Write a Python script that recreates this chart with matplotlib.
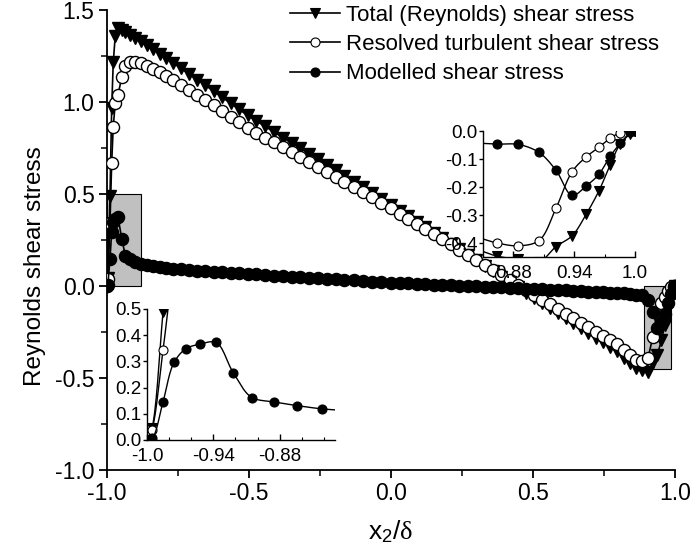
import numpy as np
import matplotlib
matplotlib.use("Agg")
import matplotlib.pyplot as plt
from matplotlib.patches import Rectangle
from matplotlib.ticker import MultipleLocator, FixedLocator

plt.rcParams["font.family"] = ["Liberation Sans", "DejaVu Sans"]
plt.rcParams["mathtext.fontset"] = "custom"
plt.rcParams["mathtext.rm"] = "Liberation Serif"
plt.rcParams["mathtext.sf"] = "Liberation Sans"
plt.rcParams["mathtext.it"] = "Liberation Serif"

# wall-normal positions x2/delta as placed on the full-channel axes
x_main = [-1.0, -0.997, -0.9895, -0.9835, -0.978, -0.971, -0.961, -0.948, -0.935, -0.919,
          -0.901, -0.881, -0.860, -0.838, -0.815, -0.791, -0.766, -0.740, -0.712, -0.683,
          -0.654, -0.625, -0.595, -0.565, -0.535, -0.505, -0.474, -0.443, -0.412, -0.381,
          -0.350, -0.319, -0.288, -0.257, -0.226, -0.195, -0.164, -0.132, -0.100, -0.068,
          -0.034, 0.0,
          0.030, 0.060, 0.090, 0.120, 0.150, 0.180, 0.210, 0.240, 0.270, 0.300,
          0.330, 0.360, 0.389, 0.418, 0.447, 0.476, 0.504, 0.532, 0.560, 0.588,
          0.615, 0.642, 0.669, 0.695, 0.721, 0.746, 0.771, 0.795, 0.819, 0.842,
          0.864, 0.885, 0.905, 0.922, 0.938, 0.952, 0.9645, 0.9755, 0.9855, 0.9955, 1.0]

# the same samples as placed on the near-wall close-ups
x_zoom = [-1.0, -0.9955, -0.9855, -0.9755, -0.9645, -0.952, -0.938, -0.922, -0.905, -0.885,
          -0.864, -0.842, -0.819, -0.795, -0.771, -0.746, -0.721, -0.695, -0.669, -0.642,
          -0.615, -0.588, -0.560, -0.532, -0.504, -0.476, -0.447, -0.418, -0.389, -0.360,
          -0.330, -0.300, -0.270, -0.240, -0.210, -0.180, -0.150, -0.120, -0.090, -0.060,
          -0.030, 0.0,
          0.030, 0.060, 0.090, 0.120, 0.150, 0.180, 0.210, 0.240, 0.270, 0.300,
          0.330, 0.360, 0.389, 0.418, 0.447, 0.476, 0.504, 0.532, 0.560, 0.588,
          0.615, 0.642, 0.669, 0.695, 0.721, 0.746, 0.771, 0.795, 0.819, 0.842,
          0.864, 0.885, 0.905, 0.922, 0.938, 0.952, 0.9645, 0.9755, 0.9855, 0.9955, 1.0]

total = [0.0, 0.045, 0.489, 0.966, 1.215, 1.359, 1.400, 1.392, 1.380, 1.365,
         1.348, 1.329, 1.308, 1.286, 1.262, 1.237, 1.211, 1.183, 1.153, 1.122,
         1.091, 1.059, 1.026, 0.993, 0.960, 0.927, 0.897, 0.867, 0.837, 0.807,
         0.777, 0.748, 0.718, 0.688, 0.658, 0.628, 0.598, 0.567, 0.536, 0.505,
         0.473, 0.440,
         0.410, 0.380, 0.350, 0.320, 0.290, 0.260, 0.230, 0.200, 0.170, 0.140,
         0.110, 0.080, 0.051, 0.022, -0.007, -0.036, -0.064, -0.092, -0.120, -0.148,
         -0.175, -0.202, -0.229, -0.255, -0.281, -0.306, -0.331, -0.355, -0.390, -0.420,
         -0.447, -0.458, -0.468, -0.413, -0.374, -0.296, -0.213, -0.121, -0.046, -0.010, 0.0]

resolved = [0.0, 0.039, 0.343, 0.670, 0.866, 0.993, 1.040, 1.135, 1.195, 1.215,
            1.220, 1.212, 1.196, 1.180, 1.161, 1.140, 1.118, 1.093, 1.066, 1.038,
            1.010, 0.981, 0.951, 0.921, 0.891, 0.861, 0.834, 0.807, 0.780, 0.753,
            0.726, 0.700, 0.673, 0.646, 0.619, 0.592, 0.565, 0.537, 0.509, 0.481,
            0.452, 0.422,
            0.394, 0.366, 0.338, 0.310, 0.282, 0.254, 0.226, 0.198, 0.170, 0.142,
            0.114, 0.086, 0.059, 0.032, 0.005, -0.022, -0.048, -0.074, -0.100, -0.126,
            -0.151, -0.176, -0.201, -0.225, -0.249, -0.272, -0.295, -0.317, -0.350, -0.377,
            -0.400, -0.410, -0.392, -0.276, -0.145, -0.092, -0.058, -0.026, -0.006, 0.0, 0.0]

modelled = [0.0, 0.006, 0.146, 0.296, 0.349, 0.366, 0.373, 0.257, 0.162, 0.145,
            0.131, 0.119, 0.112, 0.106, 0.101, 0.097, 0.093, 0.090, 0.087, 0.084,
            0.081, 0.078, 0.075, 0.072, 0.069, 0.066, 0.063, 0.060, 0.057, 0.054,
            0.051, 0.048, 0.045, 0.042, 0.039, 0.036, 0.033, 0.030, 0.027, 0.024,
            0.021, 0.018,
            0.016, 0.014, 0.012, 0.010, 0.008, 0.006, 0.004, 0.002, 0.000, -0.002,
            -0.004, -0.006, -0.008, -0.010, -0.012, -0.014, -0.016, -0.018, -0.020, -0.022,
            -0.024, -0.026, -0.028, -0.030, -0.032, -0.034, -0.036, -0.038, -0.040, -0.043,
            -0.047, -0.048, -0.076, -0.140, -0.230, -0.196, -0.154, -0.090, -0.044, -0.005, 0.0]

labels = ["Total (Reynolds) shear stress",
          "Resolved turbulent shear stress",
          "Modelled shear stress"]

# close-up windows shown as grey boxes on the main axes: (x0, x1, y0, y1)
box_lower = (-1.0, -0.88, 0.0, 0.5)
box_upper = (0.89, 0.985, -0.45, 0.0)

W, H = 691, 556
fig = plt.figure(figsize=(W / 100, H / 100), dpi=100)


def px_axes(x0, y0, x1, y1):
    """Axes placed by pixel box (left, top, right, bottom) of the figure."""
    return fig.add_axes([x0 / W, 1 - y1 / H, (x1 - x0) / W, (y1 - y0) / H])


def smooth_curve(xs, ys, sx, sy, n=16):
    """Centripetal Catmull-Rom curve through the samples, built in axis-scaled units."""
    P = np.column_stack([np.asarray(xs, float) / sx, np.asarray(ys, float) / sy])
    P = np.vstack([2 * P[0] - P[1], P, 2 * P[-1] - P[-2]])
    out = []
    for i in range(1, len(P) - 2):
        p0, p1, p2, p3 = P[i - 1], P[i], P[i + 1], P[i + 2]
        t0 = 0.0
        t1 = t0 + max(np.linalg.norm(p1 - p0), 1e-9) ** 0.5
        t2 = t1 + max(np.linalg.norm(p2 - p1), 1e-9) ** 0.5
        t3 = t2 + max(np.linalg.norm(p3 - p2), 1e-9) ** 0.5
        t = np.linspace(t1, t2, n)[:, None]
        a1 = (t1 - t) / (t1 - t0) * p0 + (t - t0) / (t1 - t0) * p1
        a2 = (t2 - t) / (t2 - t1) * p1 + (t - t1) / (t2 - t1) * p2
        a3 = (t3 - t) / (t3 - t2) * p2 + (t - t2) / (t3 - t2) * p3
        b1 = (t2 - t) / (t2 - t0) * a1 + (t - t0) / (t2 - t0) * a2
        b2 = (t3 - t) / (t3 - t1) * a2 + (t - t1) / (t3 - t1) * a3
        c = (t2 - t) / (t2 - t1) * b1 + (t - t1) / (t2 - t1) * b2
        out.append(c)
    C = np.vstack(out)
    return C[:, 0] * sx, C[:, 1] * sy


ax = px_axes(107, 10, 675, 470)

series = [
    (total, dict(marker="v", mfc="black", mec="black")),
    (resolved, dict(marker="o", mfc="white", mec="black")),
    (modelled, dict(marker="o", mfc="black", mec="black")),
]


def style_axes(a, lw):
    for s in ("top", "right"):
        a.spines[s].set_visible(False)
    for s in ("left", "bottom"):
        a.spines[s].set_linewidth(lw)


for b in (box_lower, box_upper):
    ax.add_patch(Rectangle((b[0], b[2]), b[1] - b[0], b[3] - b[2],
                           facecolor="#c0c0c0", edgecolor="black", lw=0.8, zorder=1))

handles = []
for (y, kw), lab in zip(series, labels):
    ax.plot(x_main, y, color="black", lw=1.2, ms=8.7, mew=1.0, zorder=3, **kw)
    h, = ax.plot([], [], color="black", lw=1.2, ms=6.5, mew=0.8, label=lab, **kw)
    handles.append(h)

ax.set_xlim(-1.0, 1.0)
ax.set_ylim(-1.0, 1.5)
ax.xaxis.set_major_locator(MultipleLocator(0.5))
ax.xaxis.set_minor_locator(MultipleLocator(0.25))
ax.yaxis.set_major_locator(MultipleLocator(0.5))
ax.yaxis.set_minor_locator(MultipleLocator(0.25))
ax.xaxis.set_major_formatter(plt.FuncFormatter(lambda v, p: f"{v:.1f}"))
ax.yaxis.set_major_formatter(plt.FuncFormatter(lambda v, p: f"{v:.1f}"))
style_axes(ax, 1.3)
ax.tick_params(which="major", direction="out", length=6, width=1.3, labelsize=16.5, pad=3)
ax.tick_params(which="minor", direction="out", length=4, width=1.1)
ax.set_xlabel(r"x$_{\mathsf{2}}$/$\mathrm{δ}$", fontsize=19, labelpad=9)
ax.set_ylabel("Reynolds shear stress", fontsize=17.5)
ax.yaxis.set_label_coords(-0.107, 0.443)

ax.legend(handles=handles, loc="upper left", bbox_to_anchor=(290 / W, 1 - 5 / H),
          bbox_transform=fig.transFigure, frameon=False, fontsize=16,
          handlelength=2.25, handletextpad=0.25, labelspacing=0.37,
          borderpad=0.0, borderaxespad=0.0)


def close_up(box, xlim, ylim):
    a = px_axes(*box)
    a.patch.set_alpha(0.0)
    sx, sy = xlim[1] - xlim[0], ylim[1] - ylim[0]
    for y, kw in series:
        cx, cy = smooth_curve(x_zoom, y, sx, sy)
        a.plot(cx, cy, color="black", lw=1.0)
        a.plot(x_zoom, y, ls="none", ms=6.5, mew=0.8, **kw)
    a.set_xlim(*xlim)
    a.set_ylim(*ylim)
    style_axes(a, 1.0)
    a.yaxis.set_major_locator(MultipleLocator(0.1))
    a.yaxis.set_major_formatter(plt.FuncFormatter(lambda v, p: f"{v:.1f}"))
    a.tick_params(axis="x", which="major", direction="in", length=4, width=1.0, labelsize=13.5, pad=6)
    a.tick_params(axis="x", which="minor", direction="in", length=2.5, width=0.8)
    a.tick_params(axis="y", which="major", direction="out", length=3, width=1.0, labelsize=13.5, pad=1)
    return a


# close-up near the lower wall
ins1 = close_up((147, 309, 335, 440), (-1.0, -0.83), (0.0, 0.5))
ins1.xaxis.set_major_locator(FixedLocator([-1.0, -0.94, -0.88]))
ins1.xaxis.set_minor_locator(MultipleLocator(0.02))
ins1.xaxis.set_major_formatter(plt.FuncFormatter(lambda v, p: "-1.0" if abs(v + 1) < 1e-9 else f"{v:.2f}"))

# close-up near the upper wall
ins2 = close_up((483, 131, 635, 257), (0.85, 1.0), (-0.45, 0.0))
ins2.xaxis.set_major_locator(FixedLocator([0.88, 0.94, 1.0]))
ins2.xaxis.set_minor_locator(FixedLocator([0.91, 0.97]))
ins2.xaxis.set_major_formatter(plt.FuncFormatter(lambda v, p: "1.0" if abs(v - 1) < 1e-9 else f"{v:.2f}"))

fig.savefig("out.png", dpi=100)
